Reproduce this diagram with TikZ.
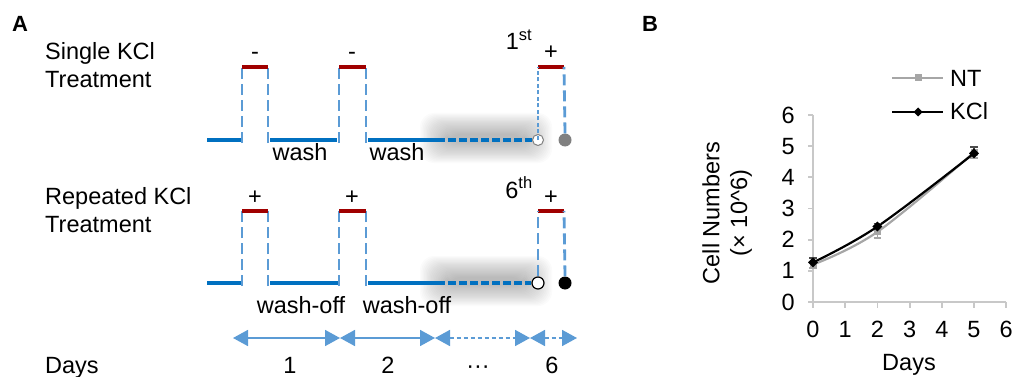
\documentclass[tikz,border=0pt]{standalone}
\usepackage{fontspec}
\setmainfont{Liberation Sans}
\usetikzlibrary{arrows.meta}
\definecolor{lineblue}{HTML}{0070C0}
\definecolor{dashblue}{HTML}{5B9BD5}
\definecolor{topred}{HTML}{A00000}
\definecolor{ntgray}{HTML}{A6A6A6}
\definecolor{axisgray}{HTML}{C8C8C8}
\definecolor{dotgray}{HTML}{808080}
\begin{document}
\begin{tikzpicture}[x=1pt,y=-1pt,
  txt/.style={font=\fontsize{23.5}{28}\selectfont, inner sep=0pt},
  paneltag/.style={font=\fontsize{22}{24}\selectfont\bfseries, inner sep=0pt},
  solidseg/.style={lineblue, line width=3.2pt},
  hdashseg/.style={lineblue, line width=3.2pt, dash pattern=on 8pt off 3pt},
  vdashseg/.style={dashblue, line width=2.8pt, dash pattern=on 11pt off 5pt},
  thindashseg/.style={dashblue, line width=1.3pt, dash pattern=on 4pt off 2.5pt},
  pulsetop/.style={topred, line width=3.2pt},
  dayarrow/.style={dashblue, line width=1.7pt, {Triangle[length=15pt,width=16pt]}-{Triangle[length=15pt,width=16pt]}},
  daydash/.style={dayarrow, dash pattern=on 4pt off 3pt},
  axisline/.style={axisgray, line width=1.8pt},
]
\useasboundingbox (0,0) rectangle (1014,377);

% ---------------- Panel A ----------------
\node[paneltag] (tagA) at (20,23.5) {A};

\node[txt, anchor=base west] (s1) at (45,60) {Single KCl};
\node[txt, anchor=base west] (s2) at (45,88) {Treatment};
\node[txt, anchor=base west] (r1) at (45,204) {Repeated KCl};
\node[txt, anchor=base west] (r2) at (45,232) {Treatment};

% soft shadows behind dashed segments
\foreach \yy in {140,283}{
  \foreach \i in {0,...,19}{
    \fill[black, opacity=0.016, rounded corners=14pt]
      (420+\i*1.4, \yy-27+\i*1.1) rectangle (552-\i*1.4, \yy+23-\i*1.1);
  }
}

% ---- top row
\coordinate (a0) at (207,140);
\coordinate (a1) at (241,140);
\coordinate (p1l) at (242,140); \coordinate (p1lt) at (242,67);
\coordinate (p1r) at (268,140); \coordinate (p1rt) at (268,67);
\coordinate (a2) at (270,140); \coordinate (a3) at (337,140);
\coordinate (p2l) at (339,140); \coordinate (p2lt) at (339,67);
\coordinate (p2r) at (366,140); \coordinate (p2rt) at (366,67);
\coordinate (a4) at (368,140); \coordinate (a5) at (437,140);
\coordinate (p3lt) at (538,67);
\coordinate (p3rt) at (564,67);

\draw[solidseg] (a0) -- (a1);
\draw[solidseg] (a2) -- (a3);
\draw[solidseg] (a4) -- (a5);
\draw[vdashseg] ([yshift=-3pt]p1l) -- (p1lt);
\draw[vdashseg] ([yshift=-3pt]p1r) -- (p1rt);
\draw[vdashseg] ([yshift=-3pt]p2l) -- (p2lt);
\draw[vdashseg] ([yshift=-3pt]p2r) -- (p2rt);
\draw[pulsetop] (p1lt) -- (p1rt);
\draw[pulsetop] (p2lt) -- (p2rt);
\draw[pulsetop] (p3lt) -- (p3rt);

\node[circle, draw=dotgray, fill=white, line width=1pt, minimum size=11pt, inner sep=0pt] (oc1) at (538,140) {};
\node[circle, fill=dotgray, minimum size=13pt, inner sep=0pt] (fc1) at (565,140) {};
\draw[hdashseg] (a5) -- (oc1.west);
\draw[thindashseg] (oc1.center) -- (p3lt);
\draw[vdashseg] (fc1.north) -- (p3rt);

\node[txt, anchor=base] (m1) at (255,60) {-};
\node[txt, anchor=base] (m2) at (352,60) {-};
\node[txt, anchor=base] (first) at (519,50) {1\textsuperscript{st}};
\node[txt, anchor=base] (pl1) at (551,60) {+};
\node[txt, anchor=base] (w1) at (300,160) {wash};
\node[txt, anchor=base] (w2) at (397,160) {wash};

% ---- bottom row
\coordinate (b0) at (207,283);
\coordinate (b1) at (241,283);
\coordinate (q1l) at (242,283); \coordinate (q1lt) at (242,211);
\coordinate (q1r) at (268,283); \coordinate (q1rt) at (268,211);
\coordinate (b2) at (270,283); \coordinate (b3) at (338,283);
\coordinate (q2l) at (339,283); \coordinate (q2lt) at (339,211);
\coordinate (q2r) at (366,283); \coordinate (q2rt) at (366,211);
\coordinate (b4) at (368,283); \coordinate (b5) at (437,283);
\coordinate (q3lt) at (538,211);
\coordinate (q3rt) at (564,211);

\draw[solidseg] (b0) -- (b1);
\draw[solidseg] (b2) -- (b3);
\draw[solidseg] (b4) -- (b5);
\draw[vdashseg] ([yshift=-3pt]q1l) -- (q1lt);
\draw[vdashseg] ([yshift=-3pt]q1r) -- (q1rt);
\draw[vdashseg] ([yshift=-3pt]q2l) -- (q2lt);
\draw[vdashseg] ([yshift=-3pt]q2r) -- (q2rt);
\draw[pulsetop] (q1lt) -- (q1rt);
\draw[pulsetop] (q2lt) -- (q2rt);
\draw[pulsetop] (q3lt) -- (q3rt);

\node[circle, draw=black, fill=white, line width=1.2pt, minimum size=12pt, inner sep=0pt] (oc2) at (538,283) {};
\node[circle, fill=black, minimum size=13pt, inner sep=0pt] (fc2) at (565,283) {};
\draw[hdashseg] (b5) -- (oc2.west);
\draw[vdashseg] (oc2.north) -- (q3lt);
\draw[vdashseg] (fc2.north) -- (q3rt);

\node[txt, anchor=base] (pp1) at (255,204) {+};
\node[txt, anchor=base] (pp2) at (352,204) {+};
\node[txt, anchor=base] (sixth) at (519,198) {6\textsuperscript{th}};
\node[txt, anchor=base] (pp3) at (551,204) {+};
\node[txt, anchor=base] (wo1) at (301,313) {wash-off};
\node[txt, anchor=base] (wo2) at (407,313) {wash-off};

% ---- days
\coordinate (d0) at (233,338);
\coordinate (d1) at (340,338);
\coordinate (d2) at (435,338);
\coordinate (d3) at (530,338);
\coordinate (d4) at (577,338);
\draw[dayarrow] (d0) -- (d1);
\draw[dayarrow] (d1) -- (d2);
\draw[daydash] (d2) -- (d3);
\draw[daydash] (d3) -- (d4);

\node[txt, anchor=base west] (days) at (45,373) {Days};
\node[txt, anchor=base] (dl1) at (290,373) {1};
\node[txt, anchor=base] (dl2) at (388,373) {2};
\node[txt, anchor=base] (dl3) at (478,373) {\textperiodcentered\textperiodcentered\textperiodcentered};
\node[txt, anchor=base] (dl6) at (552,373) {6};

% ---------------- Panel B ----------------
\node[paneltag] (tagB) at (650,23.5) {B};

\node[txt, rotate=90] (ylab1) at (711,213) {Cell Numbers};
\node[txt, rotate=90] (ylab2) at (741,213) {(× 10\textasciicircum6)};
\node[txt, anchor=base] (xlab) at (909,370) {Days};

\begin{scope}[shift={(813,302)}, x=32.2pt, y=31.17pt]
  \draw[axisline] (0,6) -- (0,0) -- (6,0);
  \foreach \v in {0,...,6}{
    \draw[axisline] (0,\v) -- ++(-5pt,0);
    \node[txt, anchor=east] (yt\v) at ([xshift=-18pt]0,\v) {\v};
  }
  \foreach \d in {0,...,6}{
    \draw[axisline] (\d,0) -- ++(0,-6pt);
    \node[txt, anchor=base] (xt\d) at ([yshift=-35pt]\d,0) {\d};
  }
  % NT
  \draw[ntgray, line width=2.2pt] plot[smooth, tension=0.6] coordinates {(0,1.2) (2,2.25) (5,4.8)};
  \draw[ntgray, line width=1.8pt] (0,1.1) -- (0,1.3) (-0.12,1.1) -- (0.12,1.1);
  \draw[ntgray, line width=1.8pt] (2,2.05) -- (2,2.45) (1.88,2.05) -- (2.12,2.05);
  \draw[ntgray, line width=1.8pt] (5,4.62) -- (5,4.98) (4.88,4.62) -- (5.12,4.62);
  \foreach \p in {(0,1.2),(2,2.25),(5,4.8)}{
    \fill[ntgray] \p ++(-3.5pt,-3.5pt) rectangle ++(7pt,7pt);
  }
  % KCl
  \draw[black, line width=2.2pt] plot[smooth, tension=0.6] coordinates {(0,1.27) (2,2.42) (5,4.77)};
  \draw[black!70, line width=1.8pt] (0,1.27) -- (0,1.4) (-0.12,1.4) -- (0.12,1.4);
  \draw[black!70, line width=1.8pt] (2,2.42) -- (2,2.52) (1.88,2.52) -- (2.12,2.52);
  \draw[black!70, line width=1.8pt] (5,4.77) -- (5,4.97) (4.88,4.97) -- (5.12,4.97);
  \foreach \p in {(0,1.27),(2,2.42),(5,4.77)}{
    \fill[black] \p ++(-5pt,0) -- ++(5pt,5pt) -- ++(5pt,-5pt) -- ++(-5pt,-5pt) -- cycle;
  }
\end{scope}

% legend
\coordinate (lg1a) at (892,78); \coordinate (lg1b) at (943,78);
\coordinate (lg2a) at (892,112); \coordinate (lg2b) at (943,112);
\draw[ntgray, line width=1.8pt] (lg1a) -- (lg1b);
\fill[ntgray] (914.5,74.5) rectangle (921.5,81.5);
\draw[black, line width=2.2pt] (lg2a) -- (lg2b);
\fill[black] (913.5,112) -- (918,107.5) -- (922.5,112) -- (918,116.5) -- cycle;
\node[txt, anchor=base west] (ntlab) at (950,87) {NT};
\node[txt, anchor=base west] (kcllab) at (950,120) {KCl};
\end{tikzpicture}
\end{document}
